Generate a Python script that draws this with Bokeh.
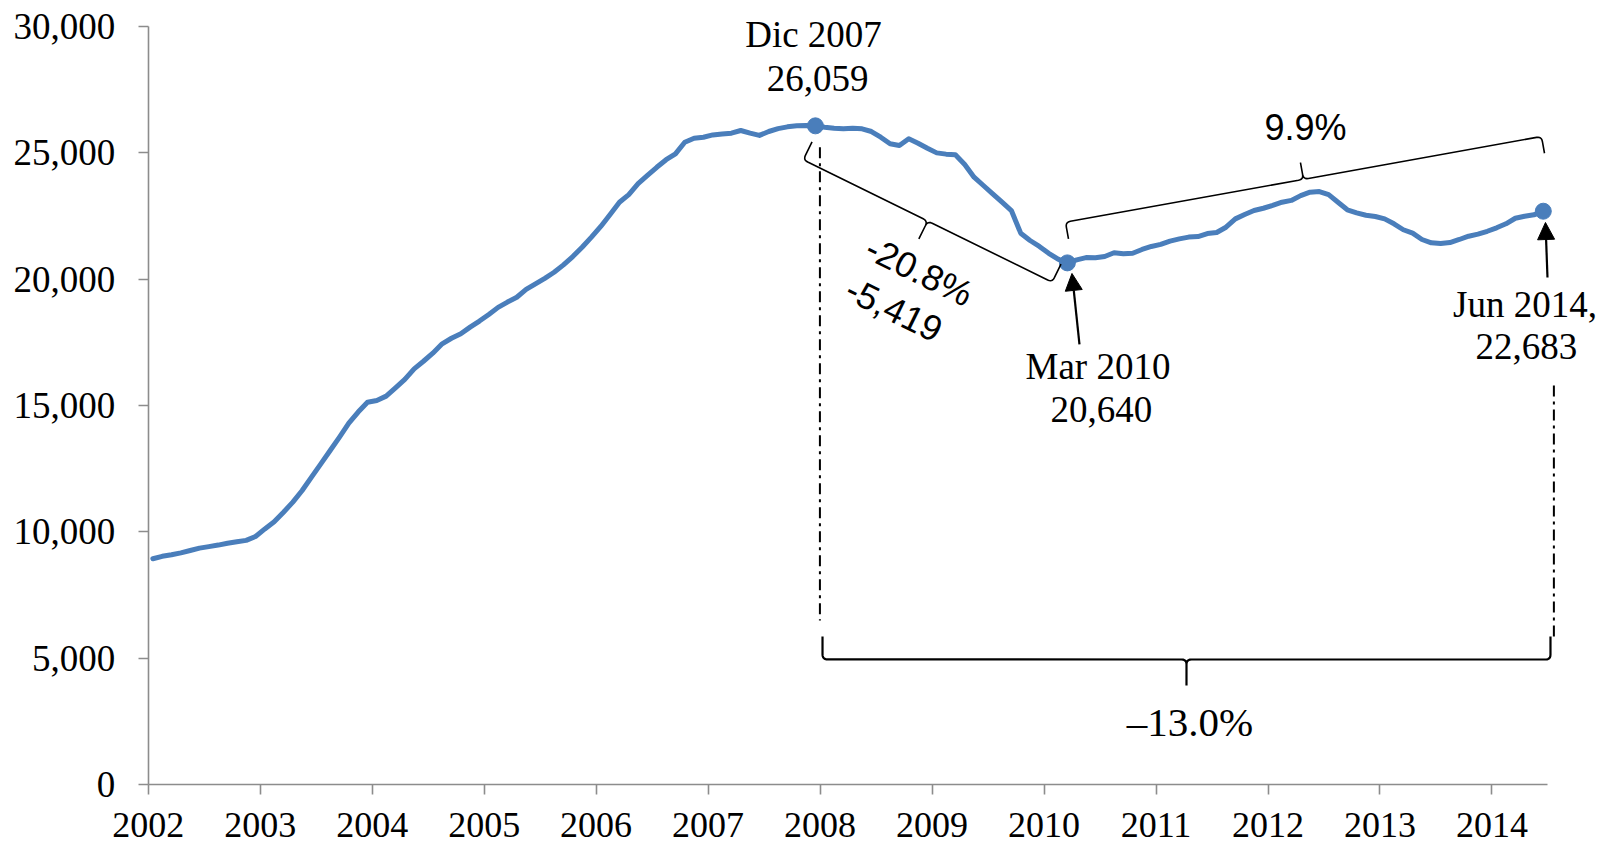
import math
import numpy as np
from bokeh.plotting import figure
from bokeh.models import Range1d, FixedTicker, NumeralTickFormatter, Arrow, NormalHead
from bokeh.embed import file_html
from bokeh.resources import INLINE
from bokeh.core.properties import value

# ---------------- data (monthly, Jan 2002 - Jun 2014) ----------------
year_ticks = list(range(2002, 2015))
year_tick_labels = [str(y) for y in year_ticks]
y_ticks = [0, 5000, 10000, 15000, 20000, 25000, 30000]

v2002 = [8940, 9035, 9095, 9170, 9265, 9360, 9420, 9480, 9555, 9610, 9665, 9820]
v2003 = [10120, 10400, 10780, 11180, 11640, 12170, 12690, 13220, 13750, 14300, 14740, 15130]
v2004 = [15200, 15370, 15700, 16030, 16450, 16750, 17070, 17440, 17660, 17840, 18100, 18340]
v2005 = [18600, 18880, 19090, 19280, 19590, 19810, 20030, 20270, 20560, 20890, 21260, 21660]
v2006 = [22080, 22550, 23040, 23340, 23770, 24100, 24420, 24720, 24950, 25410, 25570, 25610]
v2007 = [25700, 25740, 25770, 25875, 25770, 25680, 25835, 25950, 26020, 26060, 26073, 26059]
v2008 = [26006, 25966, 25942, 25966, 25942, 25835, 25610, 25350, 25283, 25547, 25373, 25175]
v2009 = [24990, 24940, 24915, 24530, 24030, 23700, 23370, 23040, 22710, 21815, 21525, 21290]
v2010 = [21020, 20790, 20640, 20760, 20850, 20840, 20890, 21040, 21000, 21020, 21170, 21290]
v2011 = [21370, 21500, 21590, 21660, 21680, 21800, 21840, 22050, 22380, 22550, 22710, 22800]
v2012 = [22910, 23040, 23110, 23300, 23435, 23460, 23340, 23040, 22740, 22620, 22525, 22475]
v2013 = [22380, 22185, 21950, 21815, 21565, 21435, 21405, 21445, 21565, 21695, 21775, 21890]
v2014 = [22027, 22185, 22405, 22486, 22541, 22683]

values = v2002 + v2003 + v2004 + v2005 + v2006 + v2007 + v2008 + v2009 + v2010 + v2011 + v2012 + v2013 + v2014
# each month plotted at its middle (date axis)
xs = [2002 + (i + 0.5) / 12.0 for i in range(len(values))]
x_axis_end = 2002 + len(values) / 12.0

hl_labels = ["Dic 2007", "Mar 2010", "Jun 2014,"]
hl_values = ["26,059", "20,640", "22,683"]
hl_index = [71, 98, 149]
pct_fall, abs_fall, pct_rise, pct_total = "-20.8%", "-5,419", "9.9%", "\u201313.0%"

BLUE = "#4A7EBB"
AXIS = "#8C8C8C"
SERIF = "Liberation Serif"
SANS = "Liberation Sans"

# ---------------- geometry (frame covers the whole figure) ----------------
W, H = 1606, 845
AX_X = 147.7               # px position of the y axis (x = 2002)
AX_Y = 784.3               # px position of the x axis (y = 0)
PXY = 111.98               # px per year
PXU = 0.025287             # px per unit
X0 = 2002.0 - AX_X / PXY
X1 = X0 + W / PXY
Y1 = AX_Y / PXU
Y0 = Y1 - H / PXU


def to_px(x, y):
    return ((x - X0) * PXY, (Y1 - y) * PXU)


def to_data(px, py):
    return (X0 + px / PXY, Y1 - py / PXU)


def shift(anchor, dx, dy):
    px, py = to_px(*anchor)
    return to_data(px + dx, py + dy)


def off_px(anchor, dx, dy):
    px, py = to_px(*anchor)
    return (px + dx, py + dy)


def quad(p0, c, p2, n=7):
    out = []
    for t in np.linspace(0, 1, n):
        out.append(((1 - t) ** 2 * p0[0] + 2 * (1 - t) * t * c[0] + t ** 2 * p2[0],
                    (1 - t) ** 2 * p0[1] + 2 * (1 - t) * t * c[1] + t ** 2 * p2[1]))
    return out


def brace(a1, a2, d_end, d_mid, sgn, r=5.0):
    ux, uy = a2[0] - a1[0], a2[1] - a1[1]
    L = math.hypot(ux, uy)
    ux, uy = ux / L, uy / L
    nx, ny = sgn * uy, -sgn * ux
    loc = [(0, d_end)]
    loc += quad((0, r), (0, 0), (r, 0))
    loc += quad((L / 2 - r, 0), (L / 2, 0), (L / 2, -r))
    loc += [(L / 2, -d_mid)]
    loc += quad((L / 2, -r), (L / 2, 0), (L / 2 + r, 0))
    loc += quad((L - r, 0), (L, 0), (L, r))
    loc += [(L, d_end)]
    bx, by = [], []
    for a, b in loc:
        q = to_data(a1[0] + a * ux + b * nx, a1[1] + a * uy + b * ny)
        bx.append(q[0])
        by.append(q[1])
    tip = (a1[0] + L / 2 * ux - d_mid * nx, a1[1] + L / 2 * uy - d_mid * ny)
    return bx, by, tip, -math.atan2(uy, ux)


# ---------------- figure ----------------
p = figure(width=W, height=H, x_range=Range1d(X0, X1), y_range=Range1d(Y0, Y1),
           output_backend="svg", toolbar_location=None, title=None,
           min_border_left=0, min_border_right=0, min_border_top=0, min_border_bottom=0)
p.outline_line_color = None
p.grid.visible = False
p.background_fill_color = "white"
p.border_fill_color = "white"

# axes
p.yaxis.ticker = FixedTicker(ticks=y_ticks)
p.yaxis.formatter = NumeralTickFormatter(format="0,0")
p.yaxis.bounds = (y_ticks[0], y_ticks[-1])
p.yaxis.fixed_location = year_ticks[0]
p.xaxis.ticker = FixedTicker(ticks=year_ticks)
p.xaxis.major_label_overrides = {y: l for y, l in zip(year_ticks, year_tick_labels)}
p.xaxis.bounds = (year_ticks[0], x_axis_end)
p.xaxis.fixed_location = y_ticks[0]
for ax in (p.xaxis, p.yaxis):
    ax.axis_line_color = AXIS
    ax.axis_line_width = 1.6
    ax.major_tick_line_color = AXIS
    ax.major_tick_line_width = 1.6
    ax.major_tick_out = 10
    ax.major_tick_in = 0
    ax.minor_tick_line_color = None
    ax.major_label_text_font = SERIF
    ax.major_label_text_color = "black"
p.yaxis.major_label_text_font_size = "37px"
p.yaxis.major_label_standoff = 23
p.xaxis.major_label_text_font_size = "36px"
p.xaxis.major_label_standoff = 18

# series
p.line(xs, values, line_width=5, color=BLUE, line_join="round", line_cap="round")
D = (xs[hl_index[0]], values[hl_index[0]])
M = (xs[hl_index[1]], values[hl_index[1]])
J = (xs[hl_index[2]], values[hl_index[2]])
p.scatter([D[0], M[0], J[0]], [D[1], M[1], J[1]], size=16, color=BLUE)

# dash-dot guide lines
for anc, dx, t, b in ((D, 4.5, 21.4, 494.6), (J, 10.6, 174.3, 429.3)):
    s0 = shift(anc, dx, t)
    s1 = shift(anc, dx, b)
    p.line([s0[0], s1[0]], [s0[1], s1[1]], color="black", line_width=2, line_dash="11 5 3 5")

# braces
b1x, b1y, tip1, ang1 = brace(off_px(D, -12.2, 34.0), off_px(M, -15.2, 19.3), 20, 20, 1)
b2x, b2y, tip2, ang2 = brace(off_px(M, -1.9, -40.7), off_px(J, -1.8, -74.7), 17, 17, -1)
b3x, b3y, tip3, ang3 = brace(off_px(D, 7.1, 533.6), off_px(J, 7.2, 448.3), 23, 26, 1)
p.line(b1x, b1y, color="black", line_width=1.6)
p.line(b2x, b2y, color="black", line_width=1.6)
p.line(b3x, b3y, color="black", line_width=2.2)

# arrows
for anc, tail, head in ((M, (12.1, 81.6), (4.6, 10.6)), (J, (4.2, 66.3), (2.2, 11.3))):
    s = shift(anc, *tail)
    e = shift(anc, *head)
    p.add_layout(Arrow(end=NormalHead(size=17, fill_color="black", line_color="black", line_width=1),
                       x_start=s[0], y_start=s[1], x_end=e[0], y_end=e[1],
                       line_color="black", line_width=2.2))

# point labels (serif), positioned by their vertical middle
lab = [
    (D, -1.9, -91.0, hl_labels[0]), (D, 2.1, -47.8, hl_values[0]),
    (M, 30.6, 103.5, hl_labels[1]), (M, 34.1, 146.9, hl_values[1]),
    (J, -18.3, 93.6, hl_labels[2]), (J, -17.0, 135.2, hl_values[2]),
]
lx, ly, lt = [], [], []
for anc, dx, dy, t in lab:
    q = shift(anc, dx, dy)
    lx.append(q[0]); ly.append(q[1]); lt.append(t)
p.text(lx, ly, text=lt, text_font=value(SERIF), text_font_size="37px", text_align="center",
       text_baseline="middle", text_color="black")

# percentage labels
q = to_data(tip2[0] + 5, tip2[1] - 35.0)
p.text([q[0]], [q[1]], text=[pct_rise], text_font=value(SANS), text_font_size="36px",
       text_align="center", text_baseline="middle", text_color="black")
qa = to_data(tip1[0] + 0.5, tip1[1] + 32.0)
qb = to_data(tip1[0] - 24.5, tip1[1] + 70.0)
p.text([qa[0], qb[0]], [qa[1], qb[1]], text=[pct_fall, abs_fall], text_font=value(SANS),
       text_font_size="36px", text_align="center", text_baseline="middle", angle=ang1,
       text_color="black")
q = to_data(tip3[0] + 3.5, tip3[1] + 37.0)
p.text([q[0]], [q[1]], text=[pct_total], text_font=value(SERIF), text_font_size="41px",
       text_align="center", text_baseline="middle", text_color="black")

open("out.html", "w").write(file_html(p, INLINE))
